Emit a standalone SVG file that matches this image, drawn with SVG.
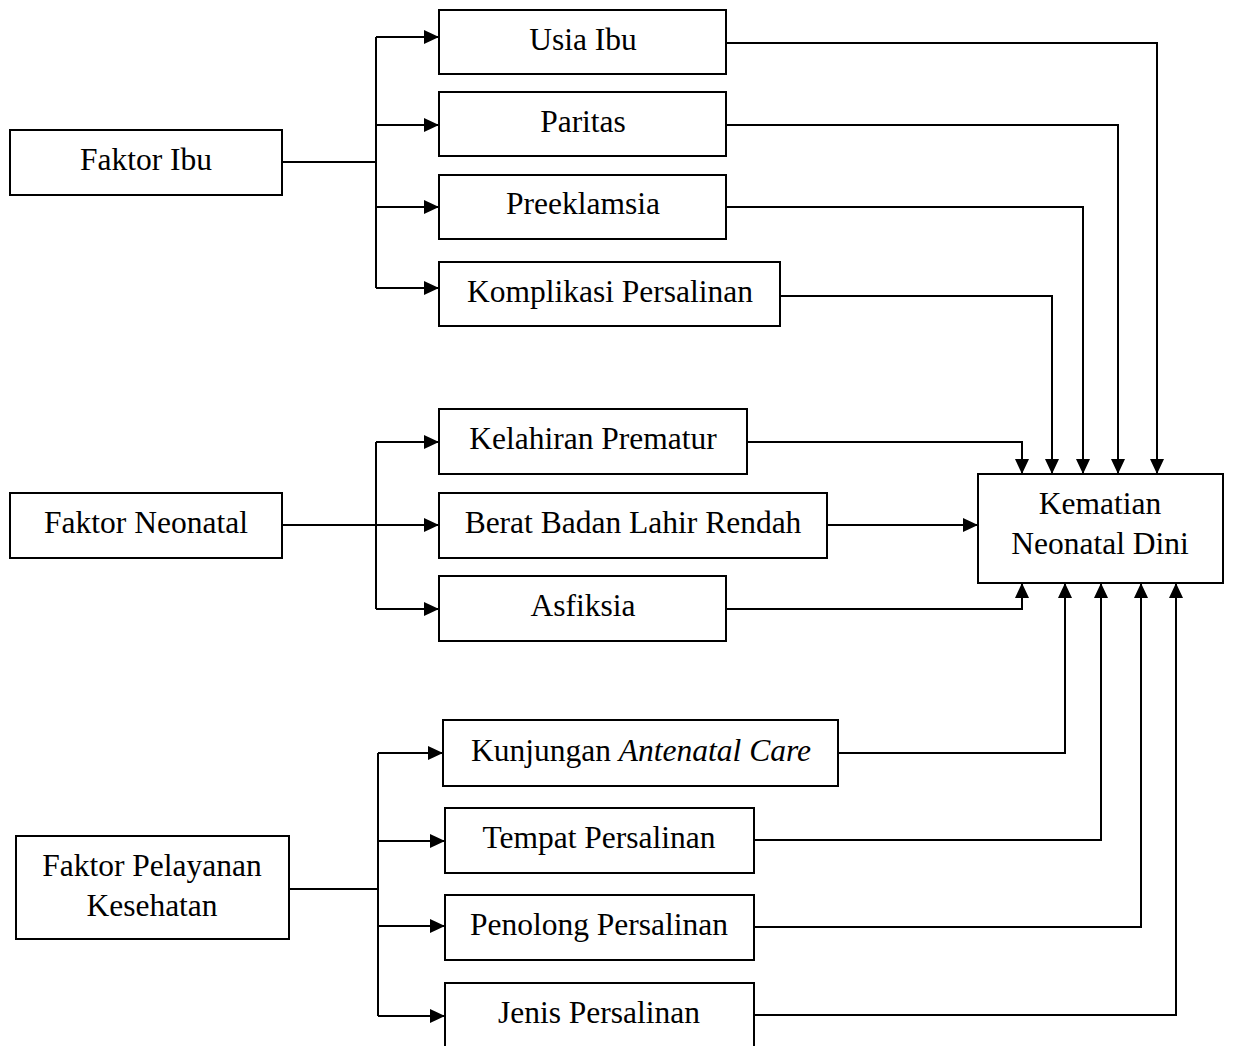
<svg xmlns="http://www.w3.org/2000/svg" width="1233" height="1046" viewBox="0 0 1233 1046">
<style>
.box{fill:#fff;stroke:#000;stroke-width:2}
.lbl{font-family:"Liberation Serif","Times New Roman",serif;font-size:31.5px;fill:#000;text-anchor:middle}
.ln{fill:none;stroke:#000;stroke-width:2;marker-end:url(#ah)}
.pl{fill:none;stroke:#000;stroke-width:2}
</style>
<defs>
<marker id="ah" markerUnits="userSpaceOnUse" markerWidth="15" markerHeight="14" refX="15" refY="7" orient="auto" viewBox="0 0 15 14">
<path d="M0,0 L15,7 L0,14 z" fill="#000"/>
</marker>
</defs>
<rect width="1233" height="1046" fill="#fff"/>
<g id="connectors">
<!-- Faktor Ibu -->
<path class="pl" d="M282,162 H376 M376,37 V288"/>
<path class="ln" d="M376,37 H439"/>
<path class="ln" d="M376,125 H439"/>
<path class="ln" d="M376,207 H439"/>
<path class="ln" d="M376,288 H439"/>
<!-- Faktor Neonatal -->
<path class="pl" d="M376,442 V609"/>
<path class="ln" d="M282,525 H439"/>
<path class="ln" d="M376,442 H439"/>
<path class="ln" d="M376,609 H439"/>
<!-- Faktor Pelayanan -->
<path class="pl" d="M289,889 H378 M378,753 V1016"/>
<path class="ln" d="M378,753 H443"/>
<path class="ln" d="M378,841 H445"/>
<path class="ln" d="M378,926 H445"/>
<path class="ln" d="M378,1016 H445"/>
<!-- to Kematian top -->
<path class="ln" d="M726,43 H1157 V474"/>
<path class="ln" d="M726,125 H1118 V474"/>
<path class="ln" d="M726,207 H1083 V474"/>
<path class="ln" d="M780,296 H1052 V474"/>
<path class="ln" d="M747,442 H1022 V474"/>
<!-- to Kematian left -->
<path class="ln" d="M827,525 H978"/>
<!-- to Kematian bottom -->
<path class="ln" d="M726,609 H1022 V583"/>
<path class="ln" d="M838,753 H1065 V583"/>
<path class="ln" d="M754,840 H1101 V583"/>
<path class="ln" d="M754,927 H1141 V583"/>
<path class="ln" d="M754,1015 H1176 V583"/>
</g>
<g id="faktor-ibu"><rect class="box" x="10" y="130" width="272" height="65"/><text class="lbl" x="146" y="170">Faktor Ibu</text></g>
<g id="usia-ibu"><rect class="box" x="439" y="10" width="287" height="64"/><text class="lbl" x="583" y="50">Usia Ibu</text></g>
<g id="paritas"><rect class="box" x="439" y="92" width="287" height="64"/><text class="lbl" x="583" y="132">Paritas</text></g>
<g id="preeklamsia"><rect class="box" x="439" y="175" width="287" height="64"/><text class="lbl" x="583" y="214">Preeklamsia</text></g>
<g id="komplikasi"><rect class="box" x="439" y="262" width="341" height="64"/><text class="lbl" x="610" y="302">Komplikasi Persalinan</text></g>
<g id="faktor-neonatal"><rect class="box" x="10" y="493" width="272" height="65"/><text class="lbl" x="146" y="533">Faktor Neonatal</text></g>
<g id="kelahiran-prematur"><rect class="box" x="439" y="409" width="308" height="65"/><text class="lbl" x="593" y="449">Kelahiran Prematur</text></g>
<g id="bblr"><rect class="box" x="439" y="493" width="388" height="65"/><text class="lbl" x="633" y="533">Berat Badan Lahir Rendah</text></g>
<g id="asfiksia"><rect class="box" x="439" y="576" width="287" height="65"/><text class="lbl" x="583" y="616">Asfiksia</text></g>
<g id="kematian"><rect class="box" x="978" y="474" width="245" height="109"/><text class="lbl" x="1100" y="514">Kematian</text><text class="lbl" x="1100" y="554">Neonatal Dini</text></g>
<g id="faktor-pelayanan"><rect class="box" x="16" y="836" width="273" height="103"/><text class="lbl" x="152" y="876">Faktor Pelayanan</text><text class="lbl" x="152" y="916">Kesehatan</text></g>
<g id="kunjungan-anc"><rect class="box" x="443" y="720" width="395" height="66"/><text class="lbl" x="641" y="761">Kunjungan <tspan font-style="italic">Antenatal Care</tspan></text></g>
<g id="tempat-persalinan"><rect class="box" x="445" y="808" width="309" height="65"/><text class="lbl" x="599" y="848">Tempat Persalinan</text></g>
<g id="penolong-persalinan"><rect class="box" x="445" y="895" width="309" height="65"/><text class="lbl" x="599" y="935">Penolong Persalinan</text></g>
<g id="jenis-persalinan"><rect class="box" x="445" y="983" width="309" height="70"/><text class="lbl" x="599" y="1023">Jenis Persalinan</text></g>
</svg>
